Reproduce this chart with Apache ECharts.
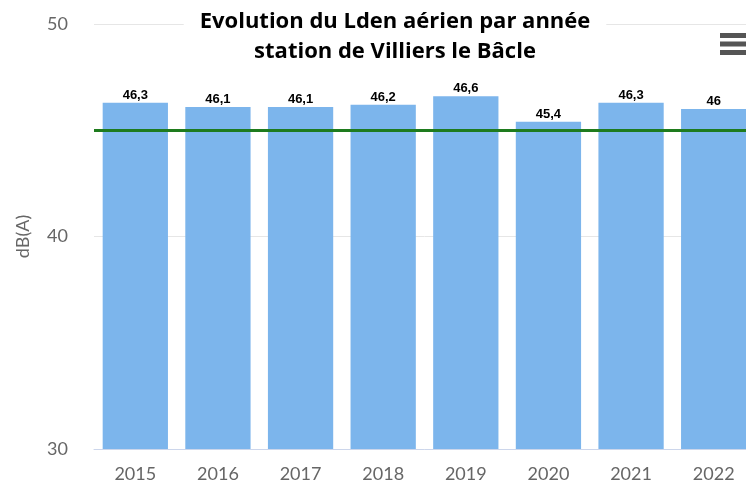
<!DOCTYPE html>
<html>
<head>
<meta charset="utf-8">
<script src="https://cdn.jsdelivr.net/npm/echarts@6/dist/echarts.min.js"></script>
<style>
    html, body { margin: 0; padding: 0; background: #fff; overflow: hidden; }
    #chart { width: 755px; height: 485px; }
</style>
</head>
<body>
<div id="chart"></div>
<script>
    // années et niveaux Lden (dB(A))
    var years = ['2015', '2016', '2017', '2018', '2019', '2020', '2021', '2022'];
    var ldenValues = [46.3, 46.1, 46.1, 46.2, 46.6, 45.4, 46.3, 46];
    var seuil = 45;           // ligne verte de référence
    var yTicks = [30, 40, 50];

    var chart = echarts.init(document.getElementById('chart'));
    chart.setOption({
        animation: false,
        title: {
            text: 'Evolution du Lden aérien par année\nstation de Villiers le Bâcle',
            left: 379,
            textAlign: 'center',
            top: 5,
            padding: [2, 16, 2, 16],
            backgroundColor: '#fff',
            textStyle: {
                fontFamily: 'Open Sans',
                fontWeight: 'bold',
                fontSize: 22,
                lineHeight: 30,
                color: '#000'
            }
        },
        toolbox: {
            right: -8,
            top: 18,
            itemSize: 28,
            iconStyle: { borderColor: '#555', borderWidth: 0, color: '#555' },
            feature: {
                myMenu: {
                    show: true,
                    title: '',
                    icon: 'path://M0,0H28V5H0Z M0,8.5H28V13.5H0Z M0,17H28V22H0Z',
                    onclick: function () {}
                }
            }
        },
        grid: {
            left: 94,
            right: 0,
            top: 24,
            bottom: 36
        },
        xAxis: {
            type: 'category',
            data: years,
            axisLine: { lineStyle: { color: '#ccd6eb', width: 1 } },
            axisTick: { show: false },
            axisLabel: {
                color: '#666',
                fontSize: 18,
                margin: 16,
                fontFamily: 'Lato'
            }
        },
        yAxis: {
            type: 'value',
            min: yTicks[0],
            max: yTicks[yTicks.length - 1],
            interval: 10,
            name: 'dB(A)',
            nameLocation: 'middle',
            nameGap: 62,
            nameTextStyle: { color: '#666', fontSize: 18, fontFamily: 'Lato' },
            axisLine: { show: false },
            axisTick: { show: false },
            axisLabel: {
                color: '#666',
                fontSize: 18,
                margin: 26,
                fontFamily: 'Lato'
            },
            splitLine: { lineStyle: { color: '#e6e6e6', width: 1 } }
        },
        series: [
            {
                name: 'Lden',
                type: 'bar',
                data: ldenValues,
                barCategoryGap: '21%',
                itemStyle: { color: '#7cb5ec' },
                label: {
                    show: true,
                    position: 'top',
                    distance: 1,
                    fontSize: 13,
                    fontWeight: 'bold',
                    color: '#000',
                    textBorderColor: '#fff',
                    textBorderWidth: 2,
                    formatter: function (p) {
                        return String(p.value).replace('.', ',');
                    }
                },
                markLine: {
                    silent: true,
                    symbol: 'none',
                    label: { show: false },
                    lineStyle: { color: '#1e7b1e', width: 3, type: 'solid' },
                    data: [{ yAxis: seuil }]
                }
            }
        ]
    });
</script>
</body>
</html>
